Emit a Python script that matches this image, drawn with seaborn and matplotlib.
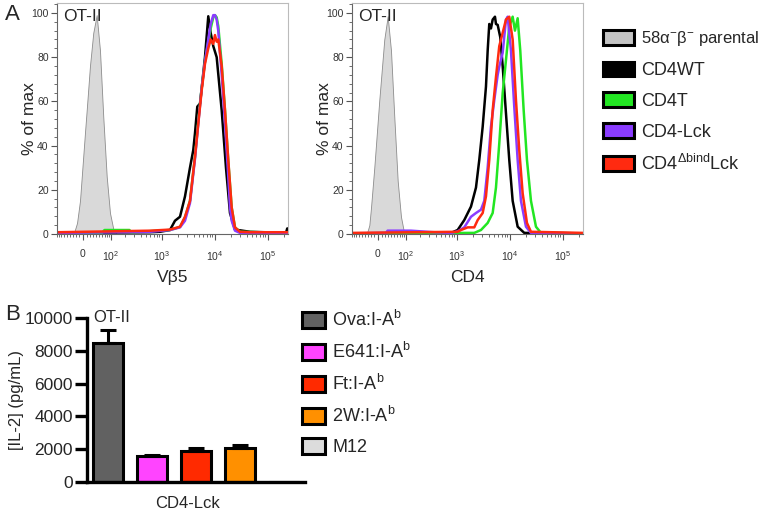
import numpy as np
import pandas as pd
import seaborn as sns
import matplotlib
matplotlib.use('Agg')
import matplotlib.pyplot as plt
from matplotlib.patches import Patch
from matplotlib.ticker import FixedLocator, NullFormatter, MultipleLocator
from matplotlib.transforms import blended_transform_factory

# %% panel A: flow histograms, % of max vs fluorescence
vb5_parental_x = [-33, -25, -17, -8.5, 5.7, 10.5, 20, 30, 41, 52.5, 65, 79.5, 95, 112, 133]
vb5_parental_y = [0, 1, 5, 15, 46, 56, 76, 91, 99, 83, 53, 26, 9.5, 2.5, 0]

vb5_wt_x = [-90, 595, 921, 1423, 1768, 2199, 2732, 3394, 3917, 4219, 4661, 5242, 5643, 6512,
            7516, 8340, 9338, 10824, 13455, 16218, 19292, 23975, 45983, 220000, 232000, 240000]
vb5_wt_y = [0.5, 0.8, 1.0, 1.8, 6.0, 7.8, 17, 30, 38, 45.6, 57.6, 59, 66, 80,
            98.5, 91, 85, 80, 56, 30, 9.5, 2, 1, 0.5, 2.5, 2.5]

vb5_t_x = [-90, 60, 70, 240, 260, 1423, 2199, 2732, 3394, 4219, 4869, 5643, 6512, 7516, 8340,
           9338, 10051, 10824, 11605, 13455, 15529, 17918, 20774, 23975, 29789, 240000]
vb5_t_y = [0.5, 0.5, 1.8, 1.8, 0.8, 1.8, 3.2, 7.5, 15, 35, 51, 66, 78, 87, 93,
           98, 99, 98, 94, 77, 56, 33, 12, 3, 1, 0.5]

vb5_lck_x = [-90, 595, 1423, 2199, 2732, 3394, 4219, 4869, 5643, 6512, 7516, 8340, 9338, 10051,
             10824, 11605, 13455, 15529, 17918, 19292, 20774, 23975, 29789, 240000]
vb5_lck_y = [0.5, 1.0, 1.8, 3.0, 6.0, 14, 34, 50, 66, 78, 88, 95, 99, 99,
             97, 92, 72, 50, 26, 12, 6, 1.5, 0.5, 0.5]

vb5_dbind_x = [-90, 595, 1423, 2199, 2732, 3394, 4219, 4869, 5643, 6512, 7516, 8340, 9338, 10051,
               10824, 11605, 13455, 15529, 17918, 20774, 23975, 29789, 45983, 240000]
vb5_dbind_y = [0.8, 1.5, 2.0, 3.3, 7.8, 15, 35, 50, 65, 77, 84, 88, 86, 90,
               87, 88, 76, 56, 33.5, 12, 3, 1, 0.8, 0.8]

cd4_parental_x = [-33, -25, -20, -10.5, 3.7, 18.0, 28.2, 38.7, 50.0, 62.7, 76.3, 91.7]
cd4_parental_y = [0, 4, 12, 30, 60.6, 88, 98.5, 83, 53, 24, 7.8, 0]

cd4_wt_x = [-90, 773, 1035, 1379, 1847, 2295, 2648, 3070, 3543, 3815, 4089, 4403, 4741, 5240,
            5470, 5891, 6595, 7319, 8450, 9750, 11297, 14040, 18703, 240000]
cd4_wt_y = [0.3, 0.5, 1.8, 6.3, 12.4, 21, 33.5, 48.5, 66.7, 83, 95, 93, 97, 98.3,
            95, 94.6, 89, 76, 54.6, 33.5, 15, 3.3, 0.5, 0.3]

cd4_t_x = [-90, 2131, 2852, 3815, 4741, 5470, 6315, 7319, 8450, 9750, 11297, 12484, 14040,
           15720, 18224, 21031, 25025, 31090, 38640, 240000]
cd4_t_y = [0.3, 0.5, 1.8, 5, 9.5, 21, 41, 63.7, 78.7, 93.8, 98.3, 92, 97.6,
           83, 56, 33.5, 15, 3.3, 0.5, 0.3]

cd4_lck_x = [-90, 23, 28, 128, 367, 773, 1035, 1379, 1847, 2295, 2852, 3291, 3815, 4403, 5083,
             5891, 6315, 7319, 8450, 9096, 10495, 12110, 14040, 16205, 20137, 25025, 240000]
cd4_lck_y = [0.3, 0.5, 1.5, 1.5, 0.8, 0.5, 1.2, 3, 7.8, 9.5, 11, 15, 30, 48.5, 60.6,
             72, 75.7, 82, 97, 98.3, 83, 57.6, 33.5, 15, 3.3, 0.5, 0.3]

cd4_dbind_x = [-90, 1035, 1195, 1600, 2131, 2471, 3070, 3543, 4089, 4741, 5470, 6315, 7319,
               8450, 9750, 11297, 13039, 15050, 17446, 21031, 25025, 240000]
cd4_dbind_y = [0.5, 1.0, 1.8, 3, 3, 6.3, 9.5, 17, 33.5, 56, 71, 85, 91,
               97, 98.3, 88, 60.6, 38, 18.4, 5, 1, 0.5]

hist_labels = ['58α$^{-}$β$^{-}$ parental', 'CD4WT', 'CD4T', 'CD4-Lck',
               'CD4$^{\\mathrm{Δbind}}$Lck']
hist_colors = ['#c4c4c4', '#000000', '#22e622', '#8a3cff', '#ff2a10']

# %% panel B: IL-2 bars
peptides = ['Ova:I-A$^{\\mathrm{b}}$', 'E641:I-A$^{\\mathrm{b}}$', 'Ft:I-A$^{\\mathrm{b}}$',
            '2W:I-A$^{\\mathrm{b}}$', 'M12']
il2_mean = [8450, 1560, 1880, 2100, 0]
il2_err = [820, 90, 170, 150, 0]
bar_colors = ['#616161', '#ff44ff', '#ff2a00', '#ff9000', '#dcdcdc']

# %%
sns.set_style('ticks')
plt.rcParams['font.family'] = ['Liberation Sans', 'DejaVu Sans']
plt.rcParams['mathtext.fontset'] = 'custom'
plt.rcParams['mathtext.rm'] = 'Liberation Sans'
plt.rcParams['mathtext.it'] = 'Liberation Sans:italic'
plt.rcParams['mathtext.bf'] = 'Liberation Sans:bold'

fig = plt.figure(figsize=(7.62, 5.13), dpi=100)
W, H = 762, 513


def box(l, t, r, b):
    return [l / W, 1 - b / H, (r - l) / W, (b - t) / H]


minor_x = ([-v for v in range(10, 100, 10)] + list(range(10, 100, 10))
           + [m * 10 ** k for k in (2, 3, 4) for m in range(2, 10)] + [200000])


def draw_hist(ax, par_x, par_y, curves, xlabel):
    ax.fill_between(par_x, par_y, color='#d9d9d9', edgecolor='#8c8c8c', lw=0.6, zorder=1)
    for x, y, c in curves:
        sns.lineplot(x=x, y=y, color=c, lw=1.8, estimator=None, sort=False, ax=ax, zorder=2)
    ax.set_xscale('asinh', linear_width=65)
    ax.set_xlim(-90, 240000)
    ax.set_ylim(0, 104.5)
    ax.set_xticks([0, 100, 1000, 10000, 100000], ['0', '$10^2$', '$10^3$', '$10^4$', '$10^5$'])
    ax.xaxis.set_minor_locator(FixedLocator(minor_x))
    ax.xaxis.set_minor_formatter(NullFormatter())
    ax.set_yticks([0, 20, 40, 60, 80, 100])
    ax.yaxis.set_minor_locator(MultipleLocator(4))
    ax.tick_params(which='major', length=4, width=0.8, color='#555555', labelsize=7.5,
                   labelcolor='#333333')
    ax.tick_params(which='minor', length=2, width=0.6, color='#555555')
    ax.tick_params(axis='x', which='major', pad=7)
    ax.tick_params(axis='y', which='major', pad=2)
    for s in ['top', 'right']:
        ax.spines[s].set_color('#bbbbbb')
        ax.spines[s].set_linewidth(0.8)
    for s in ['left', 'bottom']:
        ax.spines[s].set_color('#666666')
        ax.spines[s].set_linewidth(0.8)
    ax.set_xlabel(xlabel, fontsize=12.5, labelpad=5)
    ax.set_ylabel('% of max', fontsize=12.5)
    ax.yaxis.set_label_coords(-0.086, 0.5)
    ax.text(0.027, 0.975, 'OT-II', transform=ax.transAxes, fontsize=12.5, va='top', ha='left')


ax1 = fig.add_axes(box(57, 3, 288, 234))
draw_hist(ax1, vb5_parental_x, vb5_parental_y,
          [(vb5_wt_x, vb5_wt_y, hist_colors[1]), (vb5_t_x, vb5_t_y, hist_colors[2]),
           (vb5_lck_x, vb5_lck_y, hist_colors[3]), (vb5_dbind_x, vb5_dbind_y, hist_colors[4])],
          'Vβ5')

ax2 = fig.add_axes(box(352, 3, 583, 234))
draw_hist(ax2, cd4_parental_x, cd4_parental_y,
          [(cd4_wt_x, cd4_wt_y, hist_colors[1]), (cd4_t_x, cd4_t_y, hist_colors[2]),
           (cd4_lck_x, cd4_lck_y, hist_colors[3]), (cd4_dbind_x, cd4_dbind_y, hist_colors[4])],
          'CD4')

handles_a = [Patch(facecolor=c, edgecolor='black', linewidth=2.2) for c in hist_colors]
leg_a = fig.legend(handles_a, hist_labels, loc='upper left',
                   bbox_to_anchor=(603 / W, 1 - 29.5 / H), frameon=False, fontsize=13,
                   borderpad=0, borderaxespad=0, handlelength=1.72, handleheight=0.9,
                   handletextpad=0.4, labelspacing=0.72)
leg_a.get_texts()[0].set_fontsize(12)

# %% panel B
axb = fig.add_axes(box(87, 318, 305, 482))
bar_df = pd.DataFrame({'peptide': peptides, 'il2': il2_mean})
sns.barplot(data=bar_df, x='peptide', y='il2', hue='peptide', palette=bar_colors, legend=False,
            width=0.67, saturation=1, edgecolor='black', linewidth=2.2, errorbar=None,
            ax=axb, zorder=2)
axb.errorbar(x=np.arange(len(peptides))[:4], y=il2_mean[:4],
             yerr=[np.zeros(4), il2_err[:4]], fmt='none', ecolor='black',
             elinewidth=2.2, capsize=6, capthick=2.2, zorder=3)
axb.set_xlim(-0.47, 4.47)
axb.set_ylim(0, 10000)
axb.set_yticks([0, 2000, 4000, 6000, 8000, 10000])
axb.set_xticks([])
axb.set_xlabel('')
axb.set_ylabel('[IL-2] (pg/mL)', fontsize=12)
axb.yaxis.set_label_coords(-0.29, 0.5)
sns.despine(ax=axb)
for s in ['left', 'bottom']:
    axb.spines[s].set_linewidth(2.4)
    axb.spines[s].set_color('black')
axb.tick_params(axis='y', length=9, width=2.4, labelsize=12.5, pad=1, color='black')
axb.text(0.08, 10000, 'OT-II', fontsize=12, ha='center', va='center')
axb.text(1.8, -0.13, 'CD4-Lck', fontsize=12, ha='center', va='center',
         transform=blended_transform_factory(axb.transData, axb.transAxes))

handles_b = [Patch(facecolor=c, edgecolor='black', linewidth=2.2) for c in bar_colors]
fig.legend(handles_b, peptides, loc='upper left', bbox_to_anchor=(302 / W, 1 - 310 / H),
           frameon=False, fontsize=13, borderpad=0, borderaxespad=0, handlelength=1.27,
           handleheight=0.94, handletextpad=0.4, labelspacing=0.66)

fig.text(12 / W, 1 - 15 / H, 'A', fontsize=16, ha='center', va='center')
fig.text(13 / W, 1 - 314 / H, 'B', fontsize=16, ha='center', va='center')

fig.savefig('out.png', dpi=100)
